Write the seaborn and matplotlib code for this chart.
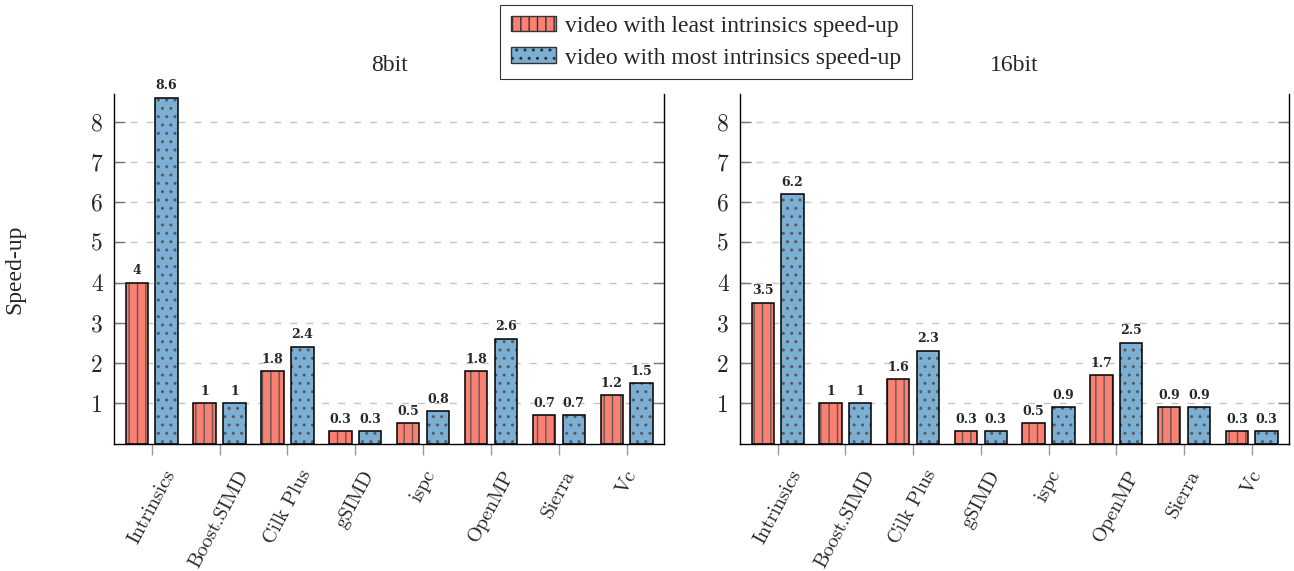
import matplotlib
matplotlib.use("Agg")
import matplotlib.pyplot as plt
from matplotlib.patches import Patch, Rectangle
import seaborn as sns
import pandas as pd

# data
implementations = ["Intrinsics", "Boost.SIMD", "Cilk Plus", "gSIMD",
                   "ispc", "OpenMP", "Sierra", "Vc"]
least_8bit = [4, 1, 1.8, 0.3, 0.5, 1.8, 0.7, 1.2]
most_8bit = [8.6, 1, 2.4, 0.3, 0.8, 2.6, 0.7, 1.5]
least_16bit = [3.5, 1, 1.6, 0.3, 0.5, 1.7, 0.9, 0.3]
most_16bit = [6.2, 1, 2.3, 0.3, 0.9, 2.5, 0.9, 0.3]
series_names = ["video with least intrinsics speed-up",
                "video with most intrinsics speed-up"]
panel_titles = ["8bit", "16bit"]
yticks = [1, 2, 3, 4, 5, 6, 7, 8]

bar_colors = ["#FA8072", "#7BAFD4"]
bar_hatches = ["||", ".."]
hatch_gray = "#5a5a5a"
serif = ["Liberation Serif", "DejaVu Serif"]
cm = ["cmr10", "DejaVu Serif"]

sns.set_style("white")
plt.rcParams["hatch.linewidth"] = 1.0
plt.rcParams["font.family"] = serif


def long_form(least, most):
    rows = []
    for name, vals in zip(series_names, [least, most]):
        for impl, v in zip(implementations, vals):
            rows.append({"impl": impl, "speedup": v, "video": name})
    return pd.DataFrame(rows)


def draw_panel(ax, df, title, show_ylabel):
    sns.barplot(data=df, x="impl", y="speedup", hue="video",
                palette=bar_colors, saturation=1, width=0.88, gap=0.25,
                errorbar=None, legend=False, ax=ax, zorder=2)

    for cont, hatch in zip(ax.containers, bar_hatches):
        for p in cont:
            p.set_hatch(hatch)
            p.set_edgecolor(hatch_gray)
            p.set_linewidth(0)
            # black outline drawn on top of the hatch
            ax.add_patch(Rectangle(p.get_xy(), p.get_width(), p.get_height(),
                                   fill=False, edgecolor="black", lw=1.1, zorder=3))
        ax.bar_label(cont, fmt="%g", padding=4, fontsize=9,
                     fontweight="bold", family="DejaVu Serif")

    ax.set_xlim(-0.556, 7.55)
    ax.set_ylim(0, 8.68)
    ax.set_yticks(yticks)
    ax.set_yticklabels([str(t) for t in yticks], family=cm, fontsize=17)
    ax.set_xticks(range(len(implementations)))
    ax.set_xticklabels(implementations, family=cm, fontsize=14.5,
                       rotation=62, ha="center")
    ax.set_xlabel("")
    ax.set_ylabel("")

    ax.set_axisbelow(True)
    ax.yaxis.grid(True, color="#c4c4c4", lw=1.0, dashes=(5, 6.5))
    ax.xaxis.grid(False)

    ax.spines["top"].set_visible(False)
    for side in ["left", "right", "bottom"]:
        ax.spines[side].set_visible(True)
        ax.spines[side].set_color("black")
        ax.spines[side].set_linewidth(1.0)

    ax.tick_params(axis="y", direction="in", length=8, width=1, color="#777777",
                   left=True, right=True, labelright=False, pad=8)
    ax.tick_params(axis="x", direction="out", length=8, width=1, color="#999999",
                   bottom=True, top=False, pad=9)

    ax.set_title(title, fontsize=17, family=serif, pad=16.5)
    if show_ylabel:
        ax.set_ylabel("Speed-up", fontsize=17, family=serif)
        ax.yaxis.set_label_coords(-0.162, 0.5)


fig = plt.figure(figsize=(12.94, 5.71), dpi=100)
W, H = 1294, 571
ax1 = fig.add_axes([114 / W, 1 - 443.5 / H, 550 / W, 349.2 / H])
ax2 = fig.add_axes([740 / W, 1 - 443.5 / H, 549 / W, 349.2 / H])

draw_panel(ax1, long_form(least_8bit, most_8bit), panel_titles[0], True)
draw_panel(ax2, long_form(least_16bit, most_16bit), panel_titles[1], False)

handles = [Patch(facecolor=c, hatch=h, edgecolor="#333333", lw=1.0)
           for c, h in zip(bar_colors, bar_hatches)]
leg = fig.legend(handles, series_names, loc="upper center",
                 bbox_to_anchor=(706 / W, 1 - 5 / H), ncol=1, fontsize=17,
                 frameon=True, fancybox=False, edgecolor="black",
                 handlelength=1.9, handleheight=0.65, handletextpad=0.4,
                 labelspacing=0.45, borderpad=0.45, borderaxespad=0)
leg.get_frame().set_linewidth(0.8)
for t in leg.get_texts():
    t.set_family(serif)

fig.savefig("out.png", dpi=100)
